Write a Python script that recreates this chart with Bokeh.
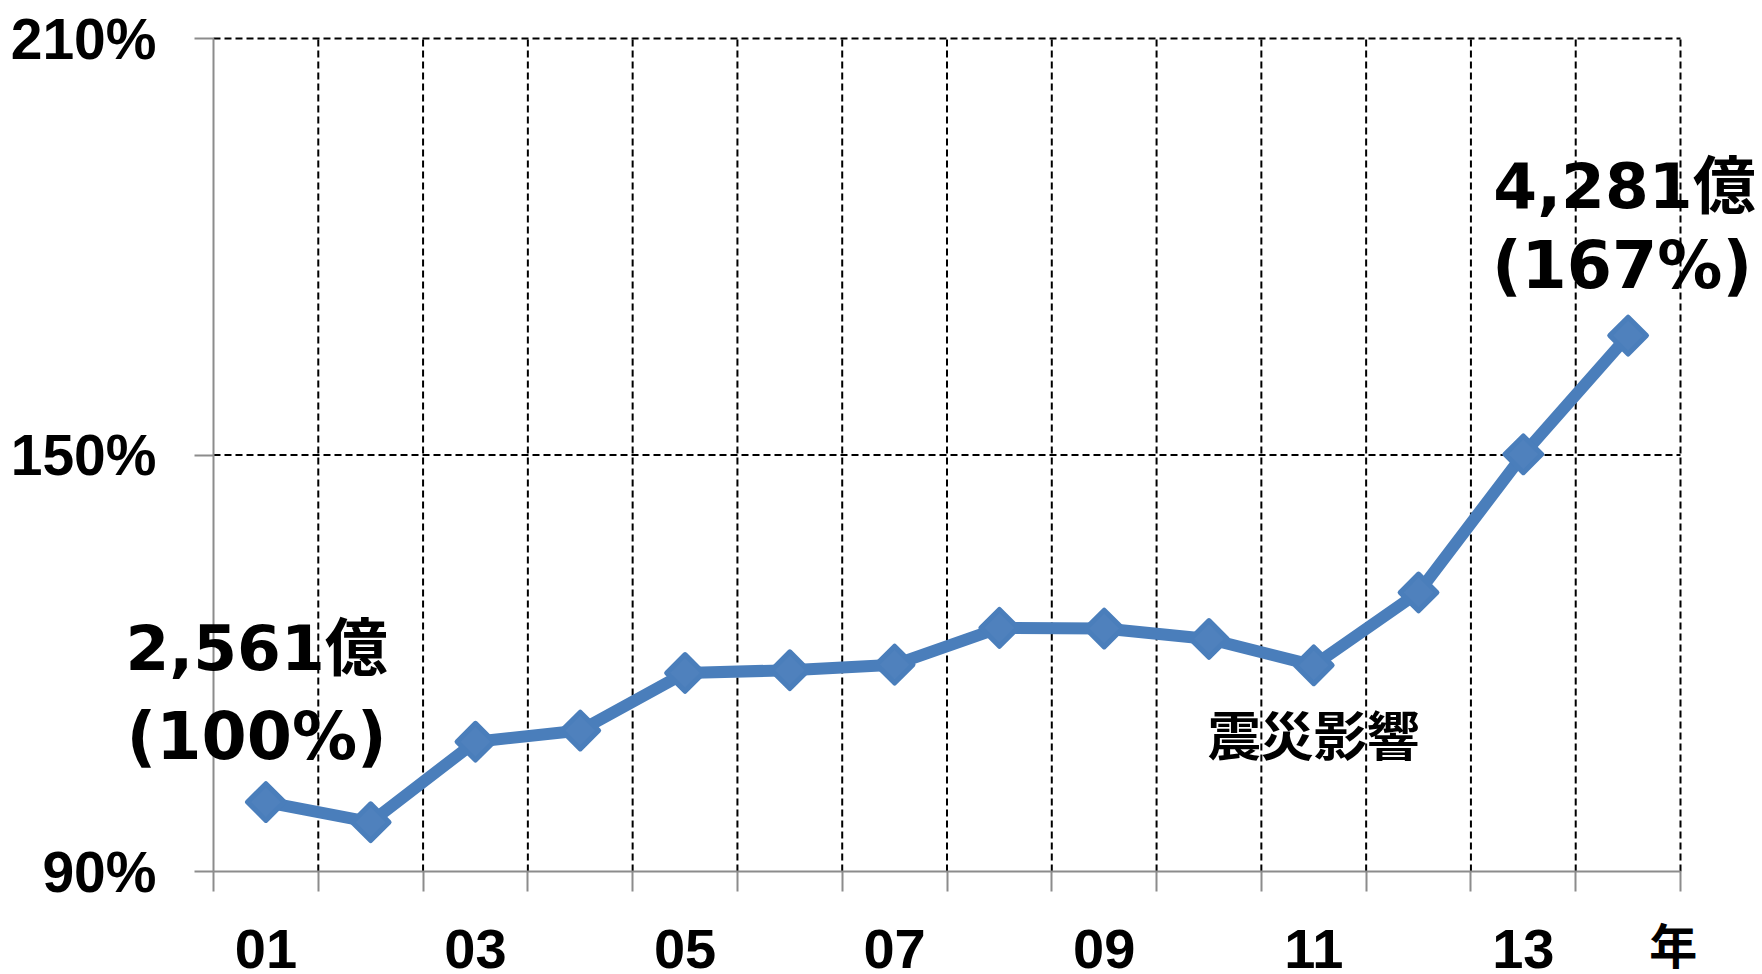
from bokeh.plotting import figure
from bokeh.models import Range1d, FixedTicker, PrintfTickFormatter, Label
from bokeh.embed import file_html
from bokeh.resources import INLINE

# ---- data ----
years = ["01", "02", "03", "04", "05", "06", "07", "08", "09", "10", "11", "12", "13", "14"]
index_pct = [100.0, 97.1, 108.7, 110.3, 118.6, 119.0, 119.8, 125.1, 125.0, 123.5, 119.7, 130.2, 150.1, 167.2]
y_ticks = [90, 150, 210]
start_label = ["2,561億", "(100%)"]
end_label = ["4,281億", "(167%)"]
note_label = "震災影響"
unit_label = "年"

xs = list(range(1, len(years) + 1))
boundaries = [i + 0.5 for i in range(0, len(years) + 1)]
x_lo, x_hi = boundaries[0], boundaries[-1]
y_lo, y_hi = y_ticks[0], y_ticks[-1]

# ---- layout: the frame covers the whole canvas; axes are fixed inside it ----
W, H = 1762, 974
PX_LEFT, PX_RIGHT, PX_TOP, PX_BOTTOM = 213, 1680, 38, 871
ux = (PX_RIGHT - PX_LEFT) / (x_hi - x_lo)
uy = (PX_BOTTOM - PX_TOP) / (y_hi - y_lo)
x_range = Range1d(x_lo - PX_LEFT / ux, x_hi + (W - PX_RIGHT) / ux)
y_range = Range1d(y_lo - (H - PX_BOTTOM) / uy, y_hi + PX_TOP / uy)

NUM_FONT = "'Liberation Sans'"
CJK_FONT = "'Noto Sans CJK JP'"
ANN_FONT = "'DejaVu Sans', 'Noto Sans CJK JP'"
GRAY = "#8c8c8c"

p = figure(width=W, height=H, output_backend="svg", toolbar_location=None,
           x_range=x_range, y_range=y_range,
           min_border_left=0, min_border_right=0, min_border_top=0, min_border_bottom=0)
p.outline_line_color = None
p.background_fill_color = "white"
p.border_fill_color = "white"
p.xgrid.visible = False
p.ygrid.visible = False

# x axis
xa = p.xaxis[0]
xa.fixed_location = y_lo
xa.bounds = (x_lo, x_hi)
xa.ticker = FixedTicker(ticks=xs[::2], minor_ticks=boundaries)
xa.major_label_overrides = {x: years[x - 1] for x in xs[::2]}
xa.major_tick_line_color = None
xa.major_tick_out = 0
xa.major_tick_in = 0
xa.minor_tick_out = 20
xa.minor_tick_in = 0
xa.minor_tick_line_color = GRAY
xa.minor_tick_line_width = 2
xa.axis_line_color = GRAY
xa.axis_line_width = 2
xa.major_label_text_font = NUM_FONT
xa.major_label_text_font_style = "bold"
xa.major_label_text_font_size = "56px"
xa.major_label_text_color = "black"
xa.major_label_standoff = 38

# y axis
ya = p.yaxis[0]
ya.fixed_location = x_lo
ya.bounds = (y_lo, y_hi)
ya.ticker = FixedTicker(ticks=y_ticks)
ya.formatter = PrintfTickFormatter(format="%d%%")
ya.major_tick_out = 19
ya.major_tick_in = 0
ya.minor_tick_line_color = None
ya.major_tick_line_color = GRAY
ya.major_tick_line_width = 2
ya.axis_line_color = GRAY
ya.axis_line_width = 2
ya.major_label_text_font = NUM_FONT
ya.major_label_text_font_style = "bold"
ya.major_label_text_font_size = "57px"
ya.major_label_text_color = "black"
ya.major_label_standoff = 38

# dashed grid lines (from the tick lists)
vb = boundaries[1:]
p.segment(x0=vb, y0=[y_lo] * len(vb), x1=vb, y1=[y_hi] * len(vb),
          line_color="black", line_width=2, line_dash="7 4")
hy = y_ticks[1:]
p.segment(x0=[x_lo] * len(hy), y0=hy, x1=[x_hi] * len(hy), y1=hy,
          line_color="black", line_width=2, line_dash="7 4")

# series
p.line(xs, index_pct, line_width=12, line_color="#4A7EBB", line_join="round")
p.scatter(xs, index_pct, marker="square", size=26, angle=45, angle_units="deg",
          fill_color="#4F81BD", line_color="#4A7EBB", line_width=5, line_join="round")

# annotations
def ann(text, x, y, size="63px", font=ANN_FONT, align="left", baseline="alphabetic"):
    p.add_layout(Label(x=x, y=y, text=text, text_font=font, text_font_style="bold",
                       text_font_size=size, text_color="black", text_align=align,
                       text_baseline=baseline))

ann(start_label[0], -0.34, 122.12)
ann(start_label[1], -0.33, 109.45, size="65px")
ann(end_label[0], 12.714, 188.68)
ann(end_label[1], 12.70, 177.30, size="65px")
ann(note_label, 11, 109.9, size="53px", font=CJK_FONT, align="center", baseline="middle")
ann(unit_label, 14.43, 79.77, size="48px", font=CJK_FONT, align="center", baseline="middle")

open("out.html", "w").write(file_html(p, INLINE))
